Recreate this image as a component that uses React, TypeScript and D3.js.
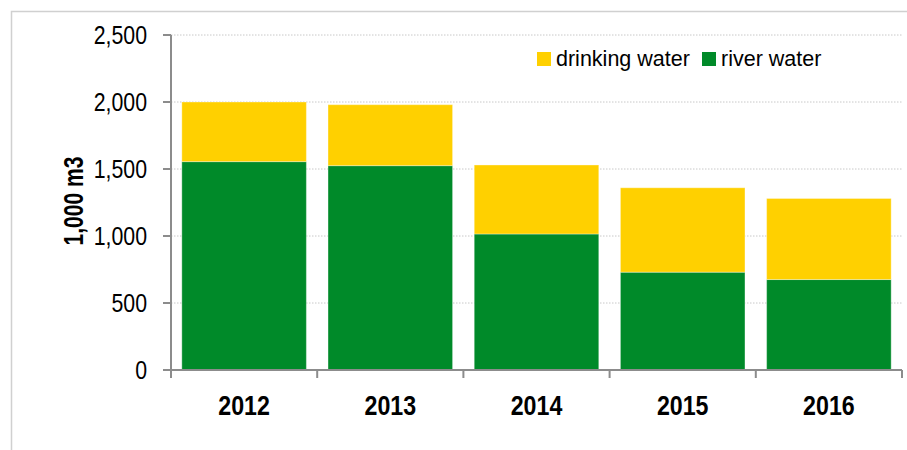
import React from "react";
import * as d3 from "d3";

const years = ["2012", "2013", "2014", "2015", "2016"];
const riverWater = [1555, 1525, 1015, 730, 675];
const drinkingWater = [445, 455, 515, 630, 605];
const yTicks = [0, 500, 1000, 1500, 2000, 2500];
const seriesNames = ["river water", "drinking water"];
const colors: Record<string, string> = { "river water": "#008A29", "drinking water": "#FFD000" };

export default function App() {
  const W = 907, H = 450;
  const left = 171, right = 902, top = 35, bottom = 370;
  const x = d3.scaleBand<string>().domain(years).range([left, right]).paddingInner(0.148).paddingOuter(0.074);
  const y = d3.scaleLinear().domain([0, 2500]).range([bottom, top]);
  const rows = years.map((yr, i) => ({ year: yr, "river water": riverWater[i], "drinking water": drinkingWater[i] }));
  const stacked = d3.stack<any>().keys(seriesNames)(rows);
  const step = x.step();
  const boundaries = d3.range(years.length + 1).map((i) => left + i * step);
  const font = "'Liberation Sans', Arial, sans-serif";
  const fmt = d3.format(",");

  return (
    <svg width={W} height={H} style={{ position: "absolute", left: 0, top: 0, background: "#fff" }}>
      <rect x={11.5} y={11.5} width={1200} height={1200} fill="#fff" stroke="#d0d0d0" strokeWidth={1.5} />
      {yTicks.filter((t) => t > 0).map((t) => (
        <line key={"g" + t} x1={left} x2={right} y1={y(t)} y2={y(t)} stroke="#c8c8c8" strokeWidth={1} strokeDasharray="1.5,1.5" />
      ))}
      {stacked.map((s) => (
        <g key={s.key} fill={colors[s.key]}>
          {s.map((d: any, i: number) => (
            <rect key={i} x={x(years[i])!} y={y(d[1])} width={x.bandwidth()} height={y(d[0]) - y(d[1])}
              stroke="#ffffff" strokeOpacity={0.35} strokeWidth={1} />
          ))}
        </g>
      ))}
      <line x1={left} x2={left} y1={top} y2={bottom + 8} stroke="#8c8c8c" strokeWidth={2} />
      {yTicks.map((t) => (
        <g key={"t" + t}>
          <line x1={left - 8} x2={left} y1={y(t)} y2={y(t)} stroke="#8c8c8c" strokeWidth={2} />
          <g transform={`translate(147,${y(t) + 9.3}) scale(0.82,1)`}>
            <text x={0} y={0} textAnchor="end" fontFamily={font} fontSize={26} fill="#000">{fmt(t)}</text>
          </g>
        </g>
      ))}
      <line x1={left} x2={right} y1={bottom} y2={bottom} stroke="#8c8c8c" strokeWidth={2} />
      {boundaries.map((bx, i) => (
        <line key={"b" + i} x1={bx} x2={bx} y1={bottom} y2={bottom + 8} stroke="#8c8c8c" strokeWidth={2} />
      ))}
      {years.map((yr) => (
        <g key={"x" + yr} transform={`translate(${x(yr)! + x.bandwidth() / 2},415) scale(0.86,1)`}>
          <text x={0} y={0} textAnchor="middle" fontFamily={font} fontWeight="bold" fontSize={27} fill="#000">{yr}</text>
        </g>
      ))}
      <g transform={`translate(83,201) rotate(-90) scale(0.78,1)`}>
        <text x={0} y={0} textAnchor="middle" fontFamily={font} fontWeight="bold" fontSize={27} fill="#000">1,000 m3</text>
      </g>
      <rect x={537} y={52} width={14} height={14} fill={colors["drinking water"]} />
      <text x={556} y={66} fontFamily={font} fontSize={21.5} fill="#000">drinking water</text>
      <rect x={702} y={52} width={14} height={14} fill={colors["river water"]} />
      <text x={721} y={66} fontFamily={font} fontSize={21.5} fill="#000">river water</text>
    </svg>
  );
}
